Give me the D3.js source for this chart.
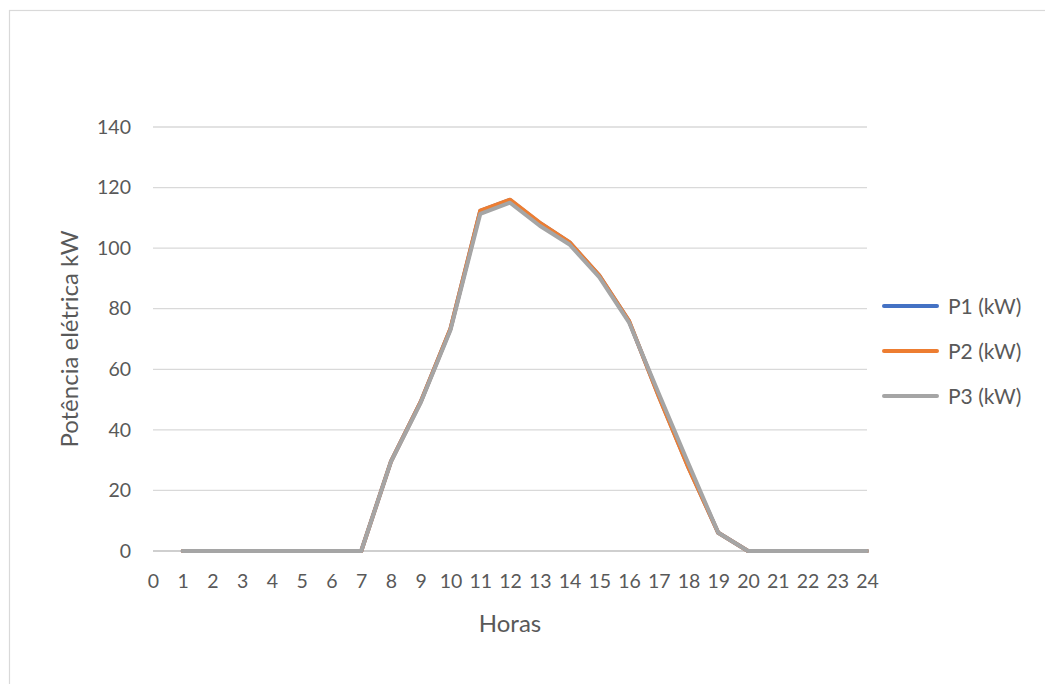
<!DOCTYPE html>
<html>
<head>
<meta charset="utf-8">
<script src="https://cdn.jsdelivr.net/npm/d3@7"></script>
<style>
  html, body { margin: 0; padding: 0; background: #ffffff; }
  svg { display: block; }
</style>
</head>
<body>
<svg id="chart" width="1045" height="684"></svg>
<script>
// Hourly electrical power (kW) for three phases
const hours = d3.range(0, 25);            // category labels 0..24
const dataHours = d3.range(1, 25);        // hours with readings
const p1 = [0, 0, 0, 0, 0, 0, 0, 29.6, 49.3, 73.4, 112.3, 115.9, 108.3, 101.9, 90.9, 75.9, 51.2, 27.6, 6.0, 0, 0, 0, 0, 0];
const p2 = [0, 0, 0, 0, 0, 0, 0, 29.6, 49.3, 73.5, 112.4, 116.0, 108.4, 102.0, 91.0, 76.0, 51.0, 27.4, 6.0, 0, 0, 0, 0, 0];
const p3 = [0, 0, 0, 0, 0, 0, 0, 29.5, 49.0, 73.0, 111.3, 115.0, 107.4, 101.2, 90.4, 75.5, 52.0, 28.8, 6.0, 0, 0, 0, 0, 0];
const seriesNames = ["P1 (kW)", "P2 (kW)", "P3 (kW)"];
const seriesColors = ["#4472C4", "#ED7D31", "#A5A5A5"];
const yTicks = [0, 20, 40, 60, 80, 100, 120, 140];
const yTitle = "Potência elétrica kW";
const xTitle = "Horas";

const series = [p1, p2, p3];
const svg = d3.select("#chart");
const font = "Lato, 'Noto Sans', sans-serif";
const textColor = "#595959";

// chart frame
svg.append("rect")
  .attr("x", 9.5).attr("y", 10.5)
  .attr("width", 1100).attr("height", 1000)
  .attr("fill", "#ffffff")
  .attr("stroke", "#d9d9d9").attr("stroke-width", 1.2);

const x = d3.scalePoint().domain(hours).range([153, 867]);
const y = d3.scaleLinear().domain([0, 140]).range([551, 127]);

// horizontal gridlines
svg.append("g")
  .selectAll("line")
  .data(yTicks.filter(d => d > 0))
  .join("line")
  .attr("x1", 153).attr("x2", 867)
  .attr("y1", d => y(d)).attr("y2", d => y(d))
  .attr("stroke", "#d9d9d9").attr("stroke-width", 1.3);

// category axis baseline
svg.append("line")
  .attr("x1", 153).attr("x2", 867)
  .attr("y1", y(0)).attr("y2", y(0))
  .attr("stroke", "#bfbfbf").attr("stroke-width", 1.3);

// y axis labels
const yAxis = d3.axisLeft(y).tickValues(yTicks).tickSize(0).tickPadding(0);
const gy = svg.append("g").attr("transform", "translate(131,0)").call(yAxis);
gy.select(".domain").remove();
gy.selectAll("text")
  .attr("font-family", font).attr("font-size", 19.5)
  .attr("fill", textColor);

// x axis labels
const xAxis = d3.axisBottom(x).tickSize(0).tickPadding(0);
const gx = svg.append("g").attr("transform", "translate(0,574)").call(xAxis);
gx.select(".domain").remove();
gx.selectAll("text")
  .attr("font-family", font).attr("font-size", 19.5)
  .attr("fill", textColor);

// axis titles
svg.append("text")
  .attr("transform", `translate(78,339) rotate(-90)`)
  .attr("text-anchor", "middle")
  .attr("font-family", font).attr("font-size", 24)
  .attr("fill", textColor)
  .text(yTitle);

svg.append("text")
  .attr("x", 510).attr("y", 632)
  .attr("text-anchor", "middle")
  .attr("font-family", font).attr("font-size", 24)
  .attr("fill", textColor)
  .text(xTitle);

// series lines
const line = d3.line()
  .x((d, i) => x(dataHours[i]))
  .y(d => y(d));

svg.append("g")
  .selectAll("path")
  .data(series)
  .join("path")
  .attr("d", d => line(d))
  .attr("fill", "none")
  .attr("stroke", (d, i) => seriesColors[i])
  .attr("stroke-width", 4)
  .attr("stroke-linejoin", "round")
  .attr("stroke-linecap", "round");

// legend
const legend = svg.append("g");
const legendY = [306, 351, 396];
seriesNames.forEach((name, i) => {
  legend.append("line")
    .attr("x1", 884).attr("x2", 937)
    .attr("y1", legendY[i]).attr("y2", legendY[i])
    .attr("stroke", seriesColors[i]).attr("stroke-width", 4)
    .attr("stroke-linecap", "round");
  legend.append("text")
    .attr("x", 948).attr("y", legendY[i])
    .attr("dy", "0.36em")
    .attr("font-family", font).attr("font-size", 21)
    .attr("fill", textColor)
    .text(name);
});
</script>
</body>
</html>
